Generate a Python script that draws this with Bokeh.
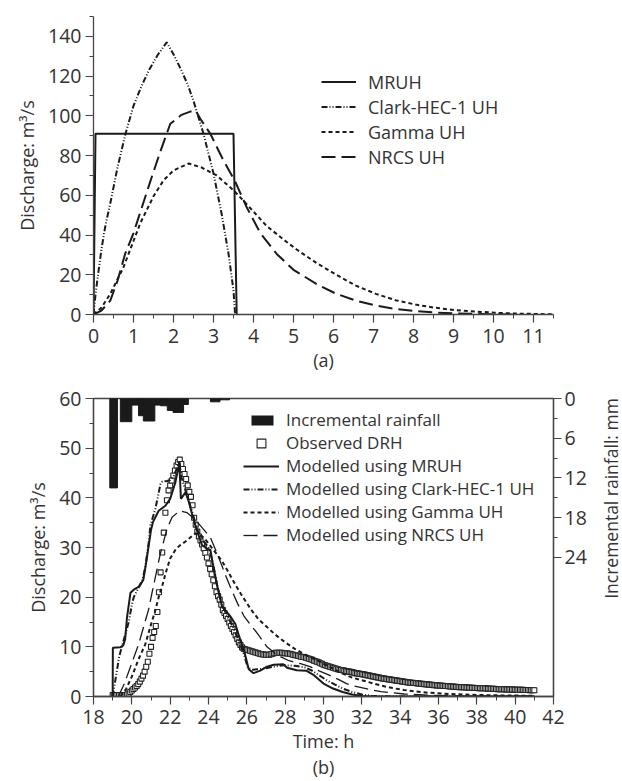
from math import pi
from bokeh.plotting import figure
from bokeh.models import (Range1d, LinearAxis, SingleIntervalTicker, FixedTicker,
                          Legend, LegendItem, Label)
from bokeh.layouts import column, row
from bokeh.embed import file_html
from bokeh.resources import INLINE

FONT = "Open Sans"
TXT = "#333333"
AX = "#444444"
INK = "#1a1a1a"
NAN = float("nan")

# ---------------- (a) unit hydrographs ----------------
mruh_t = [0, 0.05, 3.5, 3.58]
mruh_q = [0, 91, 91, 0]

clark_t = [0, 0.05, 0.1, 0.2, 0.3, 0.42, 0.6, 0.8, 1.0, 1.2, 1.4, 1.6, 1.83,
           2.0, 2.17, 2.35, 2.5, 2.75, 3.0, 3.2, 3.38, 3.5, 3.54]
clark_q = [0, 10, 18, 33, 45, 56, 74, 91, 105, 115, 123.5, 130.5, 137,
           131, 124, 116, 107.5, 91, 71, 51, 30, 12, 0]

gamma_t = [0, 0.2, 0.42, 0.75, 1.0, 1.17, 1.5, 1.75, 2.0, 2.38, 2.7, 3.08, 3.5,
           3.75, 4.33, 4.83, 5.08, 5.57, 6.07, 6.56, 7.06, 7.55, 8.05, 8.54,
           9.04, 9.53, 10.03, 10.5, 11.0, 11.5]
gamma_q = [0, 3.5, 10.4, 23.8, 37, 46, 59.5, 67.5, 72.5, 76, 74, 70, 62.5,
           57.3, 44.5, 36.5, 32.7, 26.0, 20.0, 14.5, 10.4, 7.2, 5.0, 3.4,
           2.2, 1.5, 0.9, 0.5, 0.3, 0.1]

nrcs_t = [0, 0.2, 0.42, 0.6, 0.79, 1.0, 1.13, 1.42, 1.67, 1.92, 2.2, 2.4, 2.55,
          2.67, 2.92, 3.25, 3.54, 3.83, 4.17, 4.58, 5.0, 5.57, 6.07, 6.56,
          7.06, 7.55, 8.0, 8.54, 9.0, 9.53, 10.5]
nrcs_q = [0, 2, 7, 17, 30.5, 41, 49, 67, 82, 96, 100.5, 102, 102.8,
          98.5, 91, 77.5, 67, 54, 41, 30.5, 22.5, 15.4, 10.4, 7.0,
          4.5, 2.8, 1.8, 1.0, 0.6, 0.3, 0]

# ---------------- (b) storm event ----------------
rain_start = [18.85, 19.4, 20.0, 20.35, 20.6, 21.2, 21.5, 21.85, 22.15, 22.7, 24.1, 24.6]
rain_end = [19.25, 20.0, 20.35, 20.6, 21.2, 21.5, 21.85, 22.15, 22.7, 22.95, 24.6, 25.1]
rain_mm = [13.5, 3.5, 1.0, 2.6, 3.4, 1.0, 1.1, 1.8, 2.1, 0.9, 0.5, 0.2]

# observed DRH, 5-minute values, one row per hour starting at 19:00
obs_rows = [
    [0.3, 0.3, 0.3, 0.3, 0.3, 0.3, 0.3, 0.3, 0.3, 0.4, 0.6, 0.9],          # 19
    [1.2, 1.5, 1.8, 2.1, 2.5, 3.0, 3.6, 4.2, 5.0, 6.0, 7.0, 8.6],          # 20
    [10.0, 11.8, 13.0, 14.2, 17.0, 21.0, 25.0, 29.0, 33.0, 37.0, 39.5, 41.5],  # 21
    [42.5, 43.5, 44.5, 45.5, 46.5, 47.2, 47.7, 46.8, 45.8, 44.8, 43.8, 42.5],  # 22
    [41.2, 40.2, 38.5, 36.0, 34.6, 33.2, 32.2, 31.4, 30.6, 29.8, 28.9, 28.0],  # 23
    [26.8, 25.7, 24.6, 23.4, 22.2, 21.0, 20.2, 19.5, 18.5, 17.4, 16.8, 16.2],  # 24
    [15.6, 14.9, 14.2, 13.6, 13.0, 12.3, 11.6, 10.9, 10.4, 9.9, 9.6, 9.5],     # 25
    [9.4, 9.3, 9.2, 9.1, 9.0, 8.9, 8.8, 8.7, 8.6, 8.5, 8.5, 8.4],             # 26
    [8.4, 8.4, 8.4, 8.5, 8.6, 8.7, 8.8, 8.8, 8.8, 8.8, 8.8, 8.7],             # 27
    [8.7, 8.7, 8.6, 8.6, 8.5, 8.4, 8.3, 8.3, 8.2, 8.1, 8.0, 7.95],            # 28
    [7.9, 7.8, 7.7, 7.6, 7.5, 7.4, 7.2, 7.1, 7.0, 6.9, 6.7, 6.6],             # 29
    [6.4, 6.3, 6.2, 6.1, 6.0, 5.9, 5.8, 5.7, 5.6, 5.5, 5.4, 5.35],            # 30
    [5.3, 5.2, 5.1, 5.05, 5.0, 4.95, 4.9, 4.8, 4.7, 4.65, 4.6, 4.55],         # 31
    [4.5, 4.45, 4.4, 4.3, 4.25, 4.2, 4.1, 4.05, 4.0, 3.9, 3.85, 3.8],         # 32
    [3.7, 3.65, 3.6, 3.55, 3.5, 3.45, 3.4, 3.35, 3.3, 3.25, 3.2, 3.15],       # 33
    [3.1, 3.05, 3.0, 2.95, 2.9, 2.85, 2.8, 2.78, 2.75, 2.72, 2.7, 2.65],      # 34
    [2.6, 2.57, 2.54, 2.5, 2.47, 2.44, 2.4, 2.37, 2.34, 2.3, 2.27, 2.24],     # 35
    [2.2, 2.18, 2.16, 2.14, 2.12, 2.1, 2.05, 2.03, 2.01, 1.99, 1.97, 1.94],   # 36
    [1.9, 1.89, 1.88, 1.86, 1.85, 1.83, 1.8, 1.79, 1.77, 1.76, 1.74, 1.72],   # 37
    [1.7, 1.69, 1.68, 1.67, 1.66, 1.65, 1.6, 1.59, 1.58, 1.57, 1.56, 1.55],   # 38
    [1.5, 1.49, 1.48, 1.47, 1.46, 1.45, 1.44, 1.43, 1.42, 1.41, 1.4, 1.39],   # 39
    [1.38, 1.37, 1.36, 1.35, 1.34, 1.33, 1.32, 1.31, 1.3, 1.29, 1.28, 1.27],  # 40
    [1.25],                                                                   # 41
]
obs_t = []
obs_q = []
for h, row_vals in enumerate(obs_rows):
    for k, v in enumerate(row_vals):
        obs_t.append(19 + h + k / 12)
        obs_q.append(v)

mruh_b_t = [19.0, 19.01, 19.4, 19.55, 19.65, 19.75, 19.93, 20.1, 20.4, 20.6, 20.75, 21.0,
            21.1, 21.4, 21.75, 22.0, 22.27, 22.48, 22.56, 22.8, 22.96, 23.14, 23.31,
            23.48, 23.66, 23.9, 24.1, 24.2, 24.44, 24.7, 25.13, 25.4, 25.66, 25.85,
            26.1, 26.35, 26.7, 27.05, 27.4, 27.9, 28.1, 28.6, 29.1, 29.5, 30.0,
            30.5, 31.0, 31.5, 32.0, 32.5, 41.0]
mruh_b_q = [0, 9.8, 9.9, 10.3, 11.5, 16.0, 20.9, 21.5, 22.2, 23.5, 27.0, 33.5,
            35.1, 37.4, 38.4, 39.8, 43.1, 47.0, 39.8, 41.1, 39.4, 36.8, 34.5,
            32.5, 30.5, 29.8, 29.5, 27.2, 22.5, 18.2, 16.2, 14.6, 11.3, 9.3,
            5.5, 4.7, 5.2, 6.0, 6.4, 6.5, 5.8, 5.3, 5.2, 4.3, 2.6,
            1.6, 0.9, 0.4, 0.1, 0, 0]

clark_b_t = [19.0, 19.17, 19.34, 19.52, 19.69, 19.84, 20.0, 20.1, 20.36, 20.55, 20.7,
             20.88, 20.97, 21.23, 21.49, 21.6, 21.84, 22.0, 22.2, 22.35, 22.48, 22.6,
             22.8, 23.0, 23.2, 23.4, 23.6, 23.8, 24.0, 24.2, 24.45, 24.7, 25.0, 25.3,
             25.6, 25.85, 26.05, 26.3, 26.7, 27.0, 27.4, 27.9, 28.5, 29.0, 29.4, 29.8,
             30.2, 30.6, 31.0, 31.5, 32.0, 32.5, 33.0, 34.0, 41.0]
clark_b_q = [0, 4, 8, 10.6, 12.9, 15, 18.5, 20, 22, 23.5, 26,
             31, 34.5, 37.8, 42.7, 43.3, 43.4, 43.6, 44.5, 46, 47.5, 44,
             41.5, 39, 36.5, 33.8, 32, 31, 30, 27.5, 22.5, 18.5, 16, 13.8,
             11, 8.5, 5.8, 5.4, 5.5, 5.7, 6.0, 6.3, 6.2, 5.9, 5.2, 4.2,
             3.2, 2.4, 1.6, 0.9, 0.4, 0.15, 0.05, 0, 0]

gamma_b_t = [19.4, 19.7, 20.0, 20.35, 20.7, 21.0, 21.2, 21.4, 21.6, 21.8, 22.0, 22.3,
             22.53, 22.8, 23.05, 23.3, 23.5, 23.8, 24.1, 24.4, 24.7, 25.0, 25.3, 25.7,
             26.2, 26.6, 27.05, 27.5, 28.0, 28.5, 29.0, 29.5, 29.8, 30.5, 31.0, 31.5,
             32.26, 33.0, 33.6, 34.2, 34.85, 35.5, 36.6, 38.0, 39.5, 41.0]
gamma_b_q = [0, 1.5, 4.0, 7.5, 10.5, 14.5, 17.0, 20.0, 22.5, 25.3, 27.8, 29.7,
             30.5, 31.2, 32.0, 32.8, 32.8, 31.8, 30.3, 28.8, 27.3, 25.3, 23.2, 20.6,
             17.6, 15.6, 14.0, 12.4, 10.9, 9.6, 8.5, 7.6, 7.0, 5.6, 4.6, 3.8,
             3.0, 2.2, 1.7, 1.3, 1.0, 0.75, 0.5, 0.3, 0.2, 0.15]

nrcs_b_t = [19.3, 19.6, 19.93, 20.36, 20.88, 21.06, 21.49, 21.84, 22.1, 22.5, 22.88,
            23.2, 23.6, 24.1, 24.5, 24.88, 25.2, 25.52, 25.85, 26.18, 26.53, 27.05,
            27.6, 28.2, 28.8, 29.3, 29.8, 30.3, 30.8, 31.2, 31.6, 32.1, 32.5, 33.0,
            34.2, 35.5, 37.0, 41.0]
nrcs_b_q = [0, 2.5, 6.0, 10.6, 17.6, 21.0, 28.8, 33.8, 36.1, 37.4, 37.0,
            36.0, 34.3, 32.0, 28.3, 24.5, 21.5, 18.7, 16.2, 14.5, 12.8, 10.0,
            8.3, 7.2, 6.6, 6.0, 5.1, 4.3, 3.4, 2.6, 2.1, 1.7, 1.3, 1.0,
            0.5, 0.25, 0.1, 0.05]

DASH_CLARK = "6 2 1 2 1 2"
DASH_GAMMA = "4 3"
DASH_NRCS = "14 6"


def style_axis(ax, ticker):
    ax.ticker = ticker
    ax.axis_line_color = AX
    ax.axis_line_width = 1.3
    ax.major_tick_line_color = AX
    ax.minor_tick_line_color = AX
    ax.major_tick_line_width = 1.2
    ax.minor_tick_line_width = 1.0
    ax.major_tick_in = 0
    ax.major_tick_out = 8
    ax.minor_tick_in = 0
    ax.minor_tick_out = 4
    ax.major_label_text_font = FONT
    ax.major_label_text_font_size = "19.5px"
    ax.major_label_text_color = TXT
    ax.axis_label_text_font = FONT
    ax.axis_label_text_font_size = "18px"
    ax.axis_label_text_font_style = "normal"
    ax.axis_label_text_color = TXT


# ---------------- figure (a) ----------------
p1 = figure(width=622, height=382, x_range=Range1d(0, 11.5), y_range=Range1d(0, 150),
            output_backend="svg", toolbar_location=None,
            min_border_left=93, min_border_right=69, min_border_top=16, min_border_bottom=68)
p1.xgrid.visible = False
p1.ygrid.visible = False
p1.outline_line_color = None
style_axis(p1.xaxis[0], SingleIntervalTicker(interval=1, num_minor_ticks=2))
style_axis(p1.yaxis[0], SingleIntervalTicker(interval=20, num_minor_ticks=2))
p1.xaxis[0].axis_label = "(a)"
p1.yaxis[0].axis_label = "Discharge: m\u00b3/s"
p1.xaxis[0].major_label_standoff = 6
p1.xaxis[0].axis_label_standoff = 2
p1.yaxis[0].major_label_standoff = 4
p1.yaxis[0].axis_label_standoff = 6

ra1 = p1.line(mruh_t, mruh_q, line_color=INK, line_width=2)
ra2 = p1.line(clark_t, clark_q, line_color=INK, line_width=2, line_dash=DASH_CLARK)
ra3 = p1.line(gamma_t, gamma_q, line_color=INK, line_width=2, line_dash=DASH_GAMMA)
ra4 = p1.line(nrcs_t, nrcs_q, line_color=INK, line_width=2, line_dash=DASH_NRCS)

leg1 = Legend(items=[LegendItem(label="MRUH", renderers=[ra1]),
                     LegendItem(label="Clark-HEC-1 UH", renderers=[ra2]),
                     LegendItem(label="Gamma UH", renderers=[ra3]),
                     LegendItem(label="NRCS UH", renderers=[ra4])],
              location=(228, 145), orientation="vertical",
              glyph_width=35, glyph_height=25, label_height=25, spacing=0,
              padding=0, margin=0, label_standoff=12,
              border_line_color=None, background_fill_alpha=0,
              label_text_font=FONT, label_text_font_size="18px", label_text_color=TXT)
p1.add_layout(leg1)

# ---------------- figure (b) ----------------
p2 = figure(width=600, height=399, x_range=Range1d(18, 42), y_range=Range1d(0, 60),
            output_backend="svg", toolbar_location=None,
            min_border_left=93, min_border_right=47, min_border_top=16, min_border_bottom=81)
p2.xgrid.visible = False
p2.ygrid.visible = False
p2.outline_line_color = AX
p2.outline_line_width = 1.3
p2.extra_y_ranges = {"rain": Range1d(45, 0)}
style_axis(p2.xaxis[0], SingleIntervalTicker(interval=2, num_minor_ticks=2))
style_axis(p2.yaxis[0], SingleIntervalTicker(interval=10, num_minor_ticks=2))
p2.xaxis[0].axis_label = "Time: h\n(b)"
p2.xaxis[0].axis_label_text_line_height = 1.1
p2.yaxis[0].axis_label = "Discharge: m\u00b3/s"
p2.xaxis[0].major_label_standoff = 5
p2.xaxis[0].axis_label_standoff = 2
p2.yaxis[0].major_label_standoff = 4
p2.yaxis[0].axis_label_standoff = 6

raxis = LinearAxis(y_range_name="rain")
style_axis(raxis, FixedTicker(ticks=[0, 6, 12, 18, 24], minor_ticks=[3, 9, 15, 21]))
raxis.major_label_standoff = 3
p2.add_layout(raxis, "right")

p2.quad(left=rain_start, right=rain_end, top=0, bottom=rain_mm, y_range_name="rain",
        fill_color=INK, line_color=INK)
rain_leg = p2.line(x=[NAN], y=[NAN], line_color=INK, line_width=10, line_dash="0 8 22 100")

rb_obs = p2.scatter(obs_t, obs_q, marker="square", size=5, fill_color="white",
                    line_color="#222222", line_width=1.1)
rb1 = p2.line(mruh_b_t, mruh_b_q, line_color=INK, line_width=2)
rb2 = p2.line(clark_b_t, clark_b_q, line_color=INK, line_width=2, line_dash=DASH_CLARK)
rb3 = p2.line(gamma_b_t, gamma_b_q, line_color=INK, line_width=2, line_dash=DASH_GAMMA)
rb4 = p2.line(nrcs_b_t, nrcs_b_q, line_color=INK, line_width=1.3, line_dash=DASH_NRCS)

leg2 = Legend(items=[LegendItem(label="Incremental rainfall", renderers=[rain_leg]),
                     LegendItem(label="Observed DRH", renderers=[rb_obs]),
                     LegendItem(label="Modelled using MRUH", renderers=[rb1]),
                     LegendItem(label="Modelled using Clark-HEC-1 UH", renderers=[rb2]),
                     LegendItem(label="Modelled using Gamma UH", renderers=[rb3]),
                     LegendItem(label="Modelled using NRCS UH", renderers=[rb4])],
              location=(150, 150), orientation="vertical",
              glyph_width=36, glyph_height=22, label_height=22, spacing=0,
              padding=0, margin=0, label_standoff=7,
              border_line_color=None, background_fill_alpha=0,
              label_text_font=FONT, label_text_font_size="17px", label_text_color=TXT)
p2.add_layout(leg2)

# narrow strip to the right carrying the rainfall axis title
ps = figure(width=22, height=399, x_range=Range1d(0, 1), y_range=Range1d(0, 1),
            output_backend="svg", toolbar_location=None,
            x_axis_location=None, y_axis_location=None,
            min_border_left=0, min_border_right=0, min_border_top=0, min_border_bottom=0)
ps.outline_line_color = None
ps.grid.visible = False
ps.add_layout(Label(x=10, y=198, x_units="screen", y_units="screen",
                    text="Incremental rainfall: mm", angle=pi / 2,
                    text_align="center", text_baseline="middle",
                    text_font=FONT, text_font_size="17.5px", text_color=TXT))

layout = column(p1, row(p2, ps, spacing=0), spacing=0)
open("out.html", "w").write(file_html(layout, INLINE))
